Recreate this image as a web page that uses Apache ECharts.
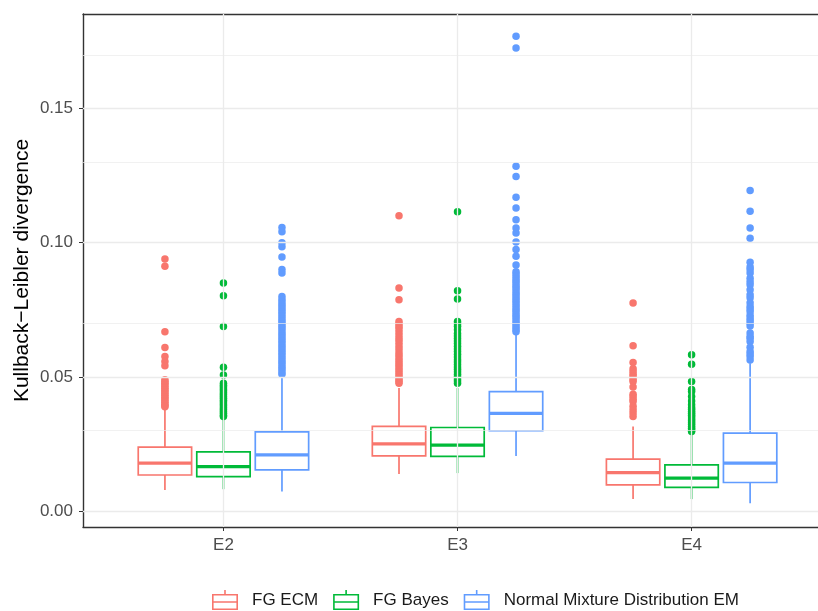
<!DOCTYPE html>
<html>
<head>
<meta charset="utf-8">
<script src="https://cdn.jsdelivr.net/npm/echarts@6/dist/echarts.min.js"></script>
<style>
  html, body { margin: 0; padding: 0; background: #fff; }
  #main { width: 818px; height: 611px; }
</style>
</head>
<body>
<div id="main"></div>
<script>
var groups = ['E2', 'E3', 'E4'];
var seriesNames = ['FG ECM', 'FG Bayes', 'Normal Mixture Distribution EM'];
var colors = ['#F8766D', '#00BA38', '#619CFF'];
var yTicks = [0, 0.05, 0.10, 0.15];
var yMinor = [0.025, 0.075, 0.125, 0.175];

// box stats per group: [lower whisker, q1, median, q3, upper whisker]
var ecmBox = [
  [0.0078, 0.0134, 0.0178, 0.0238, 0.0377],
  [0.0138, 0.0205, 0.0250, 0.0315, 0.0458],
  [0.0044, 0.0097, 0.0143, 0.0193, 0.0315]
];
var bayesBox = [
  [0.0081, 0.0128, 0.0165, 0.0220, 0.0340],
  [0.0141, 0.0203, 0.0245, 0.0311, 0.0458],
  [0.0044, 0.0088, 0.0122, 0.0172, 0.0284]
];
var emBox = [
  [0.0072, 0.0153, 0.0209, 0.0295, 0.0501],
  [0.0205, 0.0299, 0.0364, 0.0445, 0.0663],
  [0.0029, 0.0106, 0.0178, 0.0290, 0.0551]
];

// outliers per group
var ecmOut = [
  [0.0939, 0.0912, 0.0668, 0.0609, 0.0576, 0.0557, 0.0541, 0.0489, 0.0483, 0.0476, 0.0470, 0.0463, 0.0457, 0.0450, 0.0444, 0.0437, 0.0431, 0.0424, 0.0418, 0.0411, 0.0405, 0.0398, 0.0392, 0.0388],
  [0.1101, 0.0831, 0.0787, 0.0706, 0.0697, 0.0688, 0.0679, 0.0668, 0.0657, 0.0646, 0.0636, 0.0625, 0.0613, 0.0602, 0.0590, 0.0580, 0.0570, 0.0561, 0.0552, 0.0543, 0.0534, 0.0525, 0.0516, 0.0507, 0.0498, 0.0490, 0.0483, 0.0476],
  [0.0775, 0.0616, 0.0553, 0.0530, 0.0520, 0.0510, 0.0501, 0.0490, 0.0483, 0.0462, 0.0435, 0.0427, 0.0416, 0.0408, 0.0390, 0.0377, 0.0365, 0.0352]
];
var bayesOut = [
  [0.0850, 0.0802, 0.0688, 0.0536, 0.0507, 0.0476, 0.0469, 0.0462, 0.0455, 0.0448, 0.0441, 0.0434, 0.0427, 0.0420, 0.0413, 0.0406, 0.0399, 0.0392, 0.0385, 0.0378, 0.0371, 0.0364, 0.0357, 0.0352],
  [0.1116, 0.0821, 0.0790, 0.0706, 0.0698, 0.0689, 0.0676, 0.0662, 0.0652, 0.0643, 0.0634, 0.0624, 0.0614, 0.0604, 0.0594, 0.0584, 0.0574, 0.0564, 0.0555, 0.0546, 0.0537, 0.0528, 0.0519, 0.0510, 0.0501, 0.0492, 0.0484, 0.0476],
  [0.0582, 0.0547, 0.0483, 0.0453, 0.0445, 0.0427, 0.0410, 0.0396, 0.0385, 0.0378, 0.0371, 0.0364, 0.0357, 0.0350, 0.0343, 0.0336, 0.0329, 0.0322, 0.0315, 0.0308, 0.0301, 0.0296]
];
var emOut = [
  [0.1057, 0.1041, 0.1000, 0.0985, 0.0947, 0.0900, 0.0887, 0.0800, 0.0788, 0.0779, 0.0770, 0.0761, 0.0752, 0.0743, 0.0734, 0.0725, 0.0716, 0.0707, 0.0698, 0.0689, 0.0680, 0.0671, 0.0662, 0.0653, 0.0644, 0.0635, 0.0626, 0.0617, 0.0608, 0.0599, 0.0590, 0.0581, 0.0572, 0.0563, 0.0554, 0.0545, 0.0536, 0.0527, 0.0518, 0.0510],
  [0.1770, 0.1726, 0.1285, 0.1247, 0.1170, 0.1130, 0.1086, 0.1055, 0.1036, 0.1003, 0.0975, 0.0950, 0.0917, 0.0892, 0.0883, 0.0874, 0.0865, 0.0856, 0.0847, 0.0838, 0.0829, 0.0820, 0.0811, 0.0802, 0.0793, 0.0784, 0.0775, 0.0766, 0.0757, 0.0748, 0.0739, 0.0730, 0.0721, 0.0712, 0.0703, 0.0694, 0.0685, 0.0676, 0.0668],
  [0.1195, 0.1117, 0.1055, 0.1017, 0.0927, 0.0910, 0.0900, 0.0887, 0.0868, 0.0855, 0.0843, 0.0825, 0.0806, 0.0795, 0.0776, 0.0762, 0.0753, 0.0744, 0.0730, 0.0719, 0.0710, 0.0700, 0.0690, 0.0663, 0.0650, 0.0644, 0.0632, 0.0610, 0.0594, 0.0585, 0.0576, 0.0563]
];

var boxes = [ecmBox, bayesBox, emBox];
var outs = [ecmOut, bayesOut, emOut];
var dodge = [-0.25, 0, 0.25];
var halfW = 0.114;
var font = 'Liberation Sans, Arial, sans-serif';
var border = { show: true, onZero: false, lineStyle: { color: '#333333', width: 1.4 } };

// legend key: whisker + box with median
var keyIcon = 'path://M12.2 0H13.8V4H12.2Z M0 4H26V5.6H0Z M0 18.4H26V20H0Z M0 5.6H1.6V18.4H0Z M24.4 5.6H26V18.4H24.4Z M1.6 11.2H24.4V12.8H1.6Z';

function renderBox(params, api) {
  var x = api.value(0);
  var c = colors[params.seriesIndex === 2 ? 0 : params.seriesIndex === 4 ? 1 : 2];
  var lo = api.coord([x, api.value(1)]);
  var q1 = api.coord([x, api.value(2)]);
  var md = api.coord([x, api.value(3)]);
  var q3 = api.coord([x, api.value(4)]);
  var hi = api.coord([x, api.value(5)]);
  var w = api.size([halfW, 0])[0];
  return {
    type: 'group',
    children: [
      { type: 'line', shape: { x1: q3[0], y1: q3[1], x2: hi[0], y2: hi[1] }, style: { stroke: c, lineWidth: 1.7 } },
      { type: 'line', shape: { x1: lo[0], y1: lo[1], x2: q1[0], y2: q1[1] }, style: { stroke: c, lineWidth: 1.7 } },
      { type: 'rect', shape: { x: q3[0] - w, y: q3[1], width: 2 * w, height: q1[1] - q3[1] }, style: { fill: '#fff', stroke: c, lineWidth: 1.7 } },
      { type: 'line', shape: { x1: md[0] - w, y1: md[1], x2: md[0] + w, y2: md[1] }, style: { stroke: c, lineWidth: 3.2 } }
    ]
  };
}

var series = [
  {
    type: 'line', data: [], silent: true, z: 1,
    markLine: {
      silent: true, symbol: 'none', label: { show: false }, animation: false,
      lineStyle: { color: '#EBEBEB', width: 0.7, type: 'solid' },
      data: yMinor.map(function (v) { return { yAxis: v }; })
    }
  },
  {
    type: 'line', data: [], silent: true, z: 1,
    markLine: {
      silent: true, symbol: 'none', label: { show: false }, animation: false,
      lineStyle: { color: '#EBEBEB', width: 1.3, type: 'solid' },
      data: yTicks.map(function (v) { return { yAxis: v }; })
        .concat(groups.map(function (g, i) { return { xAxis: i + 1 }; }))
    }
  }
];

seriesNames.forEach(function (name, s) {
  series.push({
    name: name,
    type: 'custom',
    z: 3,
    itemStyle: { color: colors[s] },
    renderItem: renderBox,
    encode: { x: 0, y: [1, 2, 3, 4, 5] },
    data: boxes[s].map(function (b, i) { return [i + 1 + dodge[s]].concat(b); })
  });
  var pts = [];
  outs[s].forEach(function (arr, i) {
    arr.forEach(function (v) { pts.push([i + 1 + dodge[s], v]); });
  });
  series.push({
    name: name,
    type: 'scatter',
    z: 4,
    symbolSize: 7.5,
    itemStyle: { color: colors[s], opacity: 1 },
    data: pts
  });
});

var chartDom = document.getElementById('main');
var myChart = echarts.init(chartDom);
var option;

option = {
  animation: false,
  backgroundColor: '#fff',
  textStyle: { fontFamily: font },
  grid: { left: 83, top: 14, right: 0, bottom: 84, show: false },
  legend: {
    left: 207, top: 585,
    itemWidth: 26, itemHeight: 20, itemGap: 15,
    textStyle: { fontSize: 17, color: '#1A1A1A', fontFamily: font, padding: [0, 0, 0, 9] },
    data: seriesNames.map(function (n, i) {
      return { name: n, icon: keyIcon, itemStyle: { color: colors[i], borderWidth: 0 } };
    })
  },
  xAxis: [
    {
      type: 'value', min: 0.4, max: 3.54, position: 'bottom',
      axisLine: border,
      axisTick: { show: true, length: 4, lineStyle: { color: '#333' }, customValues: [1, 2, 3] },
      axisLabel: {
        customValues: [1, 2, 3], margin: 10, fontSize: 17, color: '#4D4D4D', fontFamily: font,
        formatter: function (v) { return groups[Math.round(v) - 1] || ''; }
      },
      splitLine: { show: false }
    },
    {
      type: 'value', min: 0.4, max: 3.54, position: 'top',
      axisLine: border,
      axisTick: { show: false },
      axisLabel: { show: false },
      splitLine: { show: false }
    }
  ],
  yAxis: {
    type: 'value', min: -0.006, max: 0.1853,
    name: 'Kullback−Leibler divergence', nameLocation: 'middle', nameGap: 50,
    nameMoveOverlap: false,
    nameTextStyle: { fontSize: 21, color: '#000', fontFamily: font },
    axisLine: border,
    axisTick: { show: true, length: 4, lineStyle: { color: '#333' }, customValues: yTicks },
    axisLabel: {
      customValues: yTicks, margin: 10, fontSize: 17, color: '#4D4D4D', fontFamily: font,
      formatter: function (v) { return v.toFixed(2); }
    },
    splitLine: { show: false }
  },
  series: series
};

option && myChart.setOption(option);
</script>
</body>
</html>
